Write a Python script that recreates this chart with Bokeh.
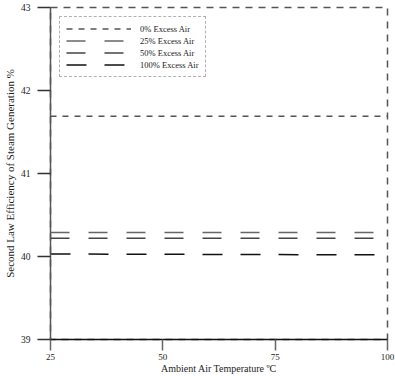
from bokeh.plotting import figure
from bokeh.models import Legend, LegendItem, FixedTicker, Range1d
from bokeh.embed import file_html
from bokeh.resources import INLINE

# ---- data ----
series_names = ["0% Excess Air", "25% Excess Air", "50% Excess Air", "100% Excess Air"]
temps_0 = [25, 100]
eff_0 = [41.69, 41.69]
temps_25 = [25, 97]
eff_25 = [40.29, 40.29]
temps_50 = [25, 97]
eff_50 = [40.22, 40.22]
temps_100 = [25, 98]
eff_100 = [40.03, 40.02]
x_ticks = [25, 50, 75, 100]
y_ticks = [39, 40, 41, 42, 43]

FONT = "Liberation Serif"

p = figure(width=395, height=376, output_backend="svg", toolbar_location=None,
           x_range=Range1d(25, 100), y_range=Range1d(39, 43),
           min_border_top=7, min_border_right=8, min_border_left=0, min_border_bottom=0)
p.grid.visible = False
p.outline_line_color = "#555555"
p.outline_line_dash = "7 6"
p.outline_line_width = 1.5
p.background_fill_color = "white"
p.border_fill_color = "white"

r0 = p.line(temps_0, eff_0, line_color="#555555", line_width=1.5, line_dash="6 6")
r25 = p.line(temps_25, eff_25, line_color="#666666", line_width=1.5, line_dash="19 19")
r50 = p.line(temps_50, eff_50, line_color="#444444", line_width=1.5, line_dash="19 19")
r100 = p.line(temps_100, eff_100, line_color="#111111", line_width=1.5, line_dash="20 18")

# axes
xa = p.xaxis[0]
ya = p.yaxis[0]
xa.ticker = FixedTicker(ticks=x_ticks)
ya.ticker = FixedTicker(ticks=y_ticks)
for ax in (xa, ya):
    ax.minor_tick_line_color = None
    ax.major_tick_in = 0
    ax.major_label_text_font = FONT
    ax.major_label_text_color = "#222222"
    ax.axis_label_text_font = FONT
    ax.axis_label_text_font_style = "normal"
    ax.axis_label_text_color = "#222222"
    ax.axis_line_width = 1.5
    ax.major_tick_line_width = 1.5

xa.axis_label = "Ambient Air Temperature ºC"
xa.axis_line_color = "#111111"
xa.major_tick_line_color = "#666666"
xa.major_tick_out = 11
xa.major_label_standoff = 3
xa.major_label_text_font_size = "9px"
xa.axis_label_text_font_size = "10px"
xa.axis_label_standoff = 0

ya.axis_label = "Second Law Efficiency of Steam Generation %"
ya.axis_line_color = "#555555"
ya.major_tick_line_color = "#333333"
ya.major_tick_out = 13
ya.major_label_standoff = 7
ya.major_label_text_font_size = "9.5px"
ya.axis_label_text_font_size = "11px"
ya.axis_label_standoff = 2

legend = Legend(items=[LegendItem(label=n, renderers=[r]) for n, r in zip(series_names, [r0, r25, r50, r100])],
                location="top_left")
legend.margin = 9
legend.padding = 6
legend.spacing = 1
legend.glyph_width = 65
legend.glyph_height = 11
legend.label_height = 11
legend.label_standoff = 9
legend.label_text_font = FONT
legend.label_text_font_size = "8.5px"
legend.label_text_color = "#222222"
legend.border_line_color = "#666666"
legend.border_line_dash = [20, 18]
legend.border_line_width = 1.5
legend.background_fill_alpha = 0
p.add_layout(legend)

open("out.html", "w").write(file_html(p, INLINE))
